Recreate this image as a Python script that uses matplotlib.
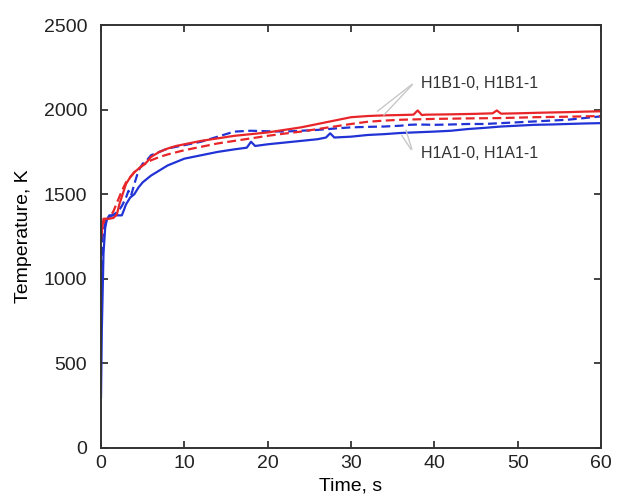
import matplotlib.pyplot as plt

plt.rcParams['font.family'] = ['Liberation Sans', 'DejaVu Sans']

# H1B1-0 (red, solid)
t_b0 = [0, 0.15, 0.3, 1.0, 1.5, 1.9, 2.2, 2.6, 3.0, 3.5, 4.0, 4.5, 5.0, 5.5, 6.0, 7, 8, 9, 10,
        11, 12, 14, 16, 18, 20, 22, 24, 26, 28, 30, 32, 34, 36, 37.5, 38.0, 38.5, 39, 42, 45,
        47, 47.5, 48, 50, 53, 56, 58, 60]
T_b0 = [1230, 1300, 1355, 1355, 1360, 1380, 1440, 1500, 1560, 1600, 1630, 1650, 1670, 1690,
        1720, 1750, 1770, 1785, 1795, 1805, 1815, 1830, 1845, 1855, 1865, 1880, 1895, 1915,
        1935, 1955, 1962, 1966, 1968, 1970, 1995, 1968, 1970, 1972, 1975, 1978, 1995, 1976,
        1978, 1982, 1985, 1988, 1990]

# H1B1-1 (red, dashed)
t_b1 = [0, 0.2, 0.5, 1.0, 1.5, 2.0, 2.5, 3, 3.5, 4, 5, 6, 7, 8, 10, 12, 14, 16, 18, 20, 22,
        24, 26, 28, 30, 32, 34, 36, 40, 44, 48, 52, 56, 60]
T_b1 = [1250, 1320, 1345, 1360, 1400, 1460, 1520, 1570, 1600, 1630, 1670, 1700, 1720, 1735,
        1760, 1780, 1800, 1815, 1830, 1845, 1858, 1870, 1885, 1900, 1915, 1928, 1935, 1940,
        1945, 1948, 1950, 1955, 1958, 1962]

# H1A1-0 (blue, solid)
t_a0 = [0, 0.1, 0.3, 0.5, 0.7, 1.0, 2.5, 2.7, 3.0, 3.5, 4, 4.5, 5, 5.5, 6, 7, 8, 9, 10, 12,
        14, 16, 17.5, 18.0, 18.5, 20, 22, 24, 26, 27, 27.5, 28, 30, 32, 34, 36, 38, 40, 42,
        44, 46, 48, 50, 52, 54, 56, 58, 60]
T_a0 = [300, 700, 1150, 1300, 1350, 1375, 1375, 1400, 1440, 1480, 1500, 1540, 1570, 1590,
        1610, 1640, 1670, 1690, 1710, 1730, 1750, 1765, 1775, 1810, 1785, 1795, 1805, 1815,
        1825, 1835, 1860, 1835, 1840, 1850, 1855, 1862, 1866, 1870, 1875, 1885, 1892, 1900,
        1905, 1910, 1912, 1915, 1918, 1920]

# H1A1-1 (blue, dashed)
t_a1 = [0, 0.2, 0.5, 1.0, 2.0, 2.5, 3.0, 3.3, 3.6, 4.0, 4.5, 5, 5.5, 6, 7, 8, 10, 12, 14, 16,
        18, 20, 22, 24, 26, 28, 30, 32, 34, 36, 37, 38, 40, 42, 44, 46, 48, 50, 52, 54, 56,
        58, 60]
T_a1 = [900, 1250, 1330, 1365, 1395, 1430, 1480, 1520, 1490, 1560, 1640, 1680, 1700, 1730,
        1750, 1770, 1790, 1810, 1840, 1870, 1875, 1872, 1870, 1875, 1880, 1888, 1895, 1898,
        1900, 1905, 1910, 1912, 1910, 1912, 1915, 1915, 1920, 1925, 1930, 1935, 1940, 1950,
        1960]

red = '#e8262a'
blue = '#2233d6'

fig = plt.figure(figsize=(6.23, 4.95), dpi=100)
ax = fig.add_axes([101 / 623, 47 / 495, 500 / 623, 423 / 495])

ax.plot(t_a1, T_a1, color=blue, lw=1.6, dashes=(4, 2))
ax.plot(t_b1, T_b1, color=red, lw=1.6, dashes=(4, 2))
ax.plot(t_a0, T_a0, color=blue, lw=1.6)
ax.plot(t_b0, T_b0, color=red, lw=1.6)

# leader lines + labels
for xy in [(32.9, 1980), (33.7, 1955)]:
    ax.annotate('', xy=xy, xytext=(37.6, 2160),
                arrowprops=dict(arrowstyle='-', color='#c8c8c8', lw=1))
for xy in [(35.9, 1862), (36.5, 1895)]:
    ax.annotate('', xy=xy, xytext=(37.4, 1750),
                arrowprops=dict(arrowstyle='-', color='#c8c8c8', lw=1))
ax.text(38.4, 2155, 'H1B1-0, H1B1-1', fontsize=11.5, color='#333333', va='center')
ax.text(38.4, 1743, 'H1A1-0, H1A1-1', fontsize=11.5, color='#333333', va='center')

ax.set_xlim(0, 60)
ax.set_ylim(0, 2500)
ax.set_xticks(range(0, 61, 10))
ax.set_yticks(range(0, 2501, 500))
ax.tick_params(direction='in', top=True, right=True, length=5, width=1.2,
               labelsize=14, colors='#222222')
ax.tick_params(axis='y', pad=10)
ax.tick_params(axis='x', pad=5)
for s in ax.spines.values():
    s.set_linewidth(1.4)
    s.set_color('#333333')
ax.set_xlabel('Time, s', fontsize=14, labelpad=4)
ax.set_ylabel('Temperature, K', fontsize=14, labelpad=8)

fig.savefig('out.png', dpi=100)
